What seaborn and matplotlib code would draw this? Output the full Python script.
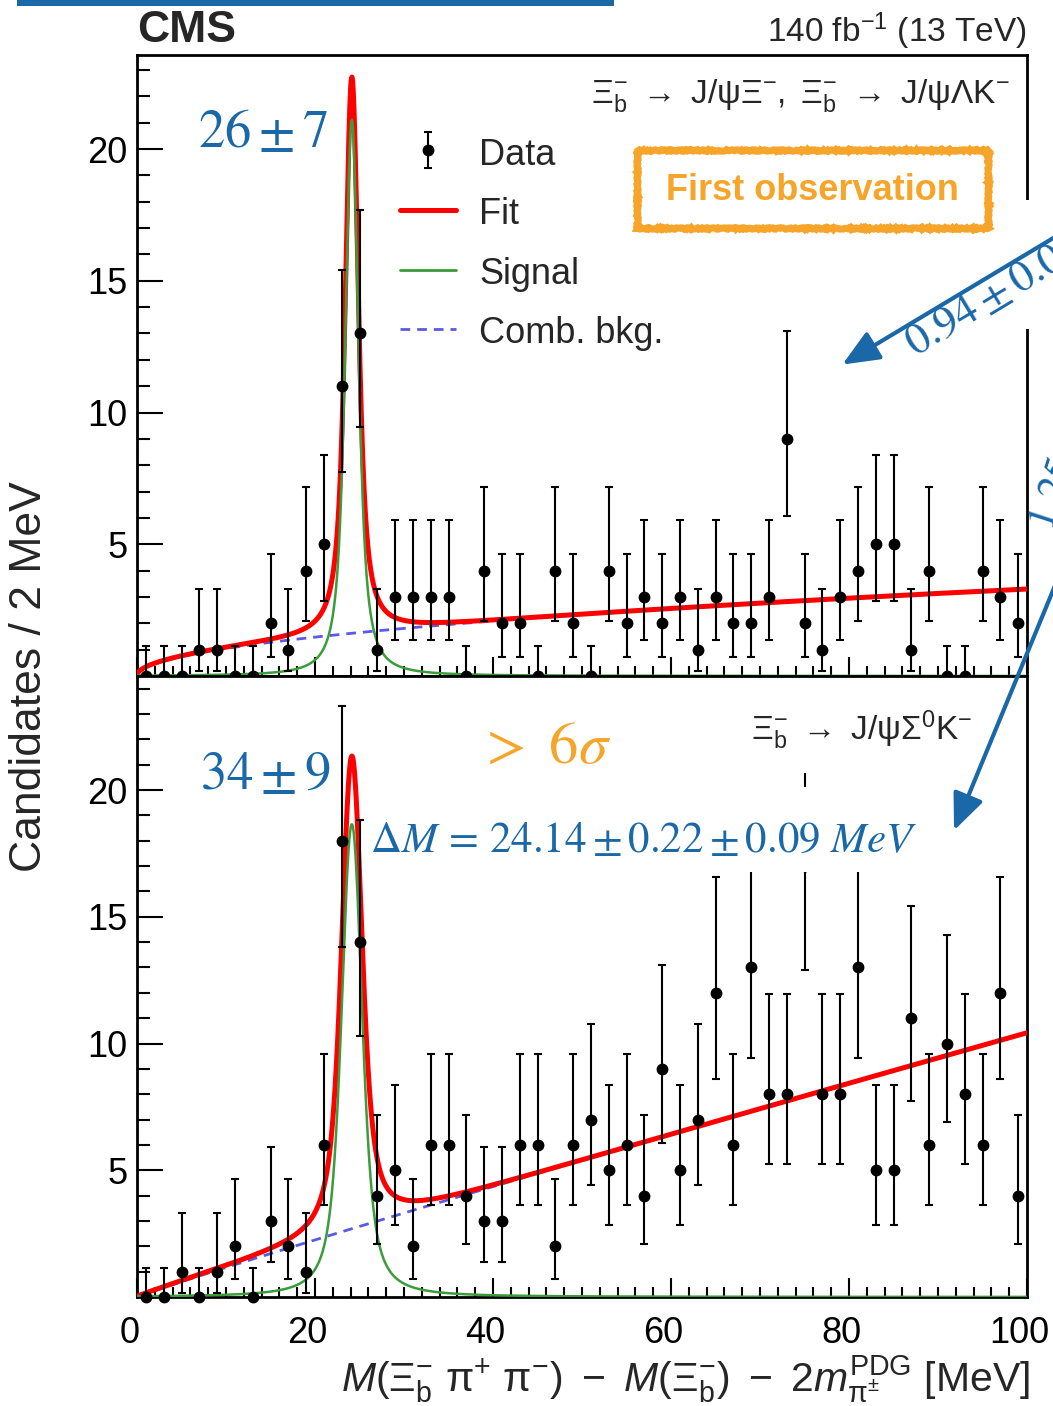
import math
import numpy as np
import pandas as pd
import matplotlib
matplotlib.use("Agg")
import matplotlib.pyplot as plt
import matplotlib.transforms as mtransforms
import seaborn as sns
from matplotlib.lines import Line2D
from matplotlib.patches import Rectangle, FancyArrowPatch
from matplotlib.ticker import MultipleLocator, FixedLocator

# ---------------- data ----------------
# 2 MeV bins over [0, 100] MeV
bin_edges = np.arange(0, 101, 2)
bin_centers = 0.5 * (bin_edges[:-1] + bin_edges[1:])
bin_width = 2.0

# Xi_b- -> J/psi Xi-, Xi_b- -> J/psi Lambda K-
counts_xi = [0, 0, 0, 1, 1, 0, 0, 2, 1, 4, 5, 11, 13, 1, 3, 3, 3, 3, 0, 4,
             2, 2, 0, 4, 2, 0, 4, 2, 3, 2, 3, 1, 3, 2, 2, 3, 9, 2, 1, 3,
             4, 5, 5, 1, 4, 0, 0, 4, 3, 2]
# Xi_b- -> J/psi Sigma0 K-
counts_sigma = [0, 0, 1, 0, 1, 2, 0, 3, 2, 1, 6, 18, 14, 4, 5, 2, 6, 6, 4, 3,
                3, 6, 6, 2, 6, 7, 5, 6, 4, 9, 5, 7, 12, 6, 13, 8, 8, 17, 8, 8,
                13, 5, 5, 11, 6, 10, 8, 6, 12, 4]

# fit results (signal yield, peak position, Breit-Wigner half width, resolution)
delta_m = 24.14
yield_xi, yield_sigma = 26, 34
gamma_xi, sigma_xi = 0.62, 0.40
gamma_sigma, sigma_sigma = 0.80, 0.74
# combinatorial background per bin: norm * x**power
bkg_norm_xi, bkg_power_xi = 0.33, 0.50
bkg_norm_sigma, bkg_power_sigma = 0.13, 0.952

ymax_xi, ymax_sigma = 23.57, 24.5
xticks = [0, 20, 40, 60, 80, 100]
yticks = [5, 10, 15, 20]

# ---------------- helpers ----------------
def poisson_cdf(k, mu):
    term = math.exp(-mu)
    s = term
    for i in range(1, k + 1):
        term *= mu / i
        s += term
    return s


def solve_decreasing(f, target, lo, hi):
    for _ in range(80):
        mid = 0.5 * (lo + hi)
        if f(mid) > target:
            lo = mid
        else:
            hi = mid
    return 0.5 * (lo + hi)


def poisson_interval(n, alpha=0.3173):
    if n == 0:
        return 0.0, -math.log(alpha)
    lo = solve_decreasing(lambda m: poisson_cdf(n - 1, m), 1 - alpha / 2, 0.0, float(n))
    hi = solve_decreasing(lambda m: poisson_cdf(n, m), alpha / 2, float(n), n + 10 * math.sqrt(n) + 10)
    return lo, hi


def voigt(x, mu, gamma, sigma):
    t = np.linspace(-6 * sigma, 6 * sigma, 481)
    g = np.exp(-0.5 * (t / sigma) ** 2)
    d = x[:, None] - mu - t[None, :]
    lor = gamma / np.pi / (d ** 2 + gamma ** 2)
    return (lor * g).sum(axis=1) / g.sum()


x_grid = np.linspace(0, 100, 2001)


def model(yield_sig, gamma, sigma, bkg_norm, bkg_power):
    pdf = voigt(x_grid, delta_m, gamma, sigma)
    pdf /= np.trapezoid(pdf, x_grid)
    sig = yield_sig * bin_width * pdf
    bkg = bkg_norm * x_grid ** bkg_power
    return pd.DataFrame({"x": x_grid, "signal": sig, "bkg": bkg, "total": sig + bkg})


# ---------------- style ----------------
sns.set_theme(style="ticks")
plt.rcParams["font.family"] = ["Liberation Sans", "DejaVu Sans"]
plt.rcParams["mathtext.fontset"] = "custom"
plt.rcParams["mathtext.rm"] = "Liberation Sans"
plt.rcParams["mathtext.it"] = "Liberation Sans:italic"
plt.rcParams["mathtext.bf"] = "Liberation Sans:bold"
plt.rcParams["mathtext.sf"] = "Liberation Sans"

FIG_W, FIG_H = 1053, 1406
fig = plt.figure(figsize=(FIG_W / 100, FIG_H / 100), dpi=100)


def px(x, y):
    return (x / FIG_W, 1 - y / FIG_H)


def rect_px(x0, y0, x1, y1, **kw):
    return Rectangle(px(x0, y1), (x1 - x0) / FIG_W, (y1 - y0) / FIG_H,
                     transform=fig.transFigure, **kw)


left, right = 137, 1027
ax_top = fig.add_axes([left / FIG_W, 1 - 676 / FIG_H, (right - left) / FIG_W, 621 / FIG_H])
ax_bot = fig.add_axes([left / FIG_W, 1 - 1297 / FIG_H, (right - left) / FIG_W, 621 / FIG_H],
                      sharex=ax_top)

RED = "#ff0000"
GREEN = "#3a9c3a"
BKG_BLUE = "#5a5ae6"
ANN_BLUE = "#1a68a8"
ORANGE = "#f6a52a"

panels = [
    (ax_top, counts_xi, model(yield_xi, gamma_xi, sigma_xi, bkg_norm_xi, bkg_power_xi), ymax_xi),
    (ax_bot, counts_sigma, model(yield_sigma, gamma_sigma, sigma_sigma, bkg_norm_sigma, bkg_power_sigma), ymax_sigma),
]

handles = {}
for ax, counts, curves, ymax in panels:
    sns.lineplot(data=curves, x="x", y="bkg", ax=ax, color=BKG_BLUE, lw=2.0,
                 linestyle=(0, (3.5, 2.5)), estimator=None, legend=False, zorder=3)
    sns.lineplot(data=curves, x="x", y="total", ax=ax, color=RED, lw=3.6,
                 estimator=None, legend=False, zorder=4)
    sns.lineplot(data=curves, x="x", y="signal", ax=ax, color=GREEN, lw=1.8,
                 estimator=None, legend=False, zorder=4.5)
    n = np.asarray(counts)
    ints = np.array([poisson_interval(int(k)) for k in n])
    yerr = np.vstack([n - ints[:, 0], ints[:, 1] - n])
    eb = ax.errorbar(bin_centers, n, yerr=yerr, fmt="o", color="black", ms=7.5,
                     elinewidth=1.5, capsize=3, capthick=1.5, zorder=6, clip_on=False)
    handles.setdefault("data", eb)

    ax.set_xlim(0, 100)
    ax.set_ylim(0, ymax)
    ax.set_xlabel("")
    ax.set_ylabel("")
    ax.xaxis.set_major_locator(FixedLocator(xticks))
    ax.xaxis.set_minor_locator(MultipleLocator(2))
    ax.yaxis.set_major_locator(FixedLocator(yticks))
    ax.yaxis.set_minor_locator(MultipleLocator(1))
    ax.tick_params(axis="both", which="both", direction="in", top=False, right=False,
                   width=1.5, labelsize=26, colors="black")
    ax.tick_params(axis="y", which="major", length=19, pad=7)
    ax.tick_params(axis="y", which="minor", length=9.5)
    ax.tick_params(axis="x", which="major", length=14, pad=14)
    ax.tick_params(axis="x", which="minor", length=7)
    for sp in ax.spines.values():
        sp.set_visible(True)
        sp.set_linewidth(2)
        sp.set_color("black")

ax_top.tick_params(axis="x", which="both", labelbottom=False)
# x tick labels sit slightly left of their ticks
shift = mtransforms.ScaledTranslation(-0.075, 0, fig.dpi_scale_trans)
for lbl in ax_bot.get_xticklabels():
    lbl.set_transform(lbl.get_transform() + shift)

leg_handles = [
    handles["data"],
    Line2D([], [], color=RED, lw=3.6),
    Line2D([], [], color=GREEN, lw=2.0),
    Line2D([], [], color=BKG_BLUE, lw=2.0, linestyle=(0, (3.5, 2.5))),
]
ax_top.legend(leg_handles, ["Data", "Fit", "Signal", "Comb. bkg."],
              loc="upper left", bbox_to_anchor=px(400, 136), bbox_transform=fig.transFigure,
              frameon=False, fontsize=26, handlelength=1.55, handletextpad=0.65,
              labelspacing=0.64, handleheight=1.0, borderpad=0, borderaxespad=0)

# ---------------- labels ----------------
fig.text(*px(137, 42), "CMS", fontsize=32, fontweight="bold", ha="left", va="baseline")
fig.text(*px(1027, 42), r"140 fb$^{-1}$ (13 TeV)", fontsize=24, ha="right", va="baseline")
fig.text(*px(1010, 103),
         r"$\Xi_{\mathrm{b}}^{-}\ \rightarrow\ \mathrm{J/\psi\Xi^{-}},\ \Xi_{\mathrm{b}}^{-}\ \rightarrow\ \mathrm{J/\psi\Lambda K^{-}}$",
         fontsize=24, ha="right", va="baseline")
fig.text(*px(30, 677), "Candidates / 2 MeV", rotation=90, fontsize=32, ha="center", va="center")
fig.text(*px(1030, 1393),
         r"$M(\Xi_{\mathrm{b}}^{-}\ \mathrm{\pi^{+}\ \pi^{-}})\ -\ M(\Xi_{\mathrm{b}}^{-})\ -\ 2m_{\mathrm{\pi^{\pm}}}^{\mathrm{PDG}}$ [MeV]",
         fontsize=29.5, ha="right", va="baseline")

# white backing boxes for the overlaid notes
fig.add_artist(rect_px(745, 700, 975, 773, facecolor="white", edgecolor="none", zorder=7))
fig.add_artist(rect_px(365, 787, 910, 872, facecolor="white", edgecolor="none", zorder=7))
fig.add_artist(rect_px(1018, 200, 1036, 329, facecolor="white", edgecolor="none", zorder=7))

fig.text(*px(972, 740),
         r"$\Xi_{\mathrm{b}}^{-}\ \rightarrow\ \mathrm{J/\psi\Sigma^{0}K^{-}}$",
         fontsize=24, ha="right", va="baseline", zorder=8)

# ---------------- notes ----------------
fig.text(*px(263, 133), r"$26 \pm 7$", fontsize=38, color=ANN_BLUE, math_fontfamily="stix",
         ha="center", va="center", zorder=8)
fig.text(*px(265, 775), r"$34 \pm 9$", fontsize=38, color=ANN_BLUE, math_fontfamily="stix",
         ha="center", va="center", zorder=8)
fig.text(*px(545, 748), r"$>\ 6\sigma$", fontsize=42, color=ORANGE, math_fontfamily="stix",
         ha="center", va="center", zorder=8)
fig.text(*px(370, 852), r"$\Delta M\,=\,24.14 \pm 0.22 \pm 0.09\ MeV$", fontsize=31,
         color=ANN_BLUE, math_fontfamily="stix", ha="left", va="baseline", zorder=8)

box = rect_px(637, 150, 988, 228, facecolor="none", edgecolor=ORANGE, lw=5, zorder=8)
box.set_sketch_params(scale=0.7, length=5, randomness=4)
fig.add_artist(box)
fig.text(*px(812, 190), "First observation", fontsize=26, fontweight="bold", color=ORANGE,
         ha="center", va="center", zorder=9)

arrow_style = "-|>,head_length=1.4,head_width=0.6"
fig.add_artist(FancyArrowPatch(px(1100, 210), px(840, 366), transform=fig.transFigure,
                               arrowstyle=arrow_style, mutation_scale=16, lw=3,
                               color=ANN_BLUE, zorder=9))
fig.add_artist(FancyArrowPatch(px(1080, 525), px(953, 833), transform=fig.transFigure,
                               arrowstyle=arrow_style, mutation_scale=16, lw=3,
                               color=ANN_BLUE, zorder=9))
fig.text(*px(915, 357), r"$0.94 \pm 0.02$", fontsize=32, color=ANN_BLUE, math_fontfamily="stix",
         rotation=31, rotation_mode="anchor", ha="left", va="baseline", zorder=9)
fig.text(*px(1052, 532), r"$1.25 \pm 0.04$", fontsize=30, color=ANN_BLUE, math_fontfamily="stix",
         rotation=72, rotation_mode="anchor", ha="left", va="baseline", zorder=9)

fig.add_artist(rect_px(17, 0, 614, 6, facecolor=ANN_BLUE, edgecolor="none", zorder=9))

fig.savefig("out.png", dpi=100)
